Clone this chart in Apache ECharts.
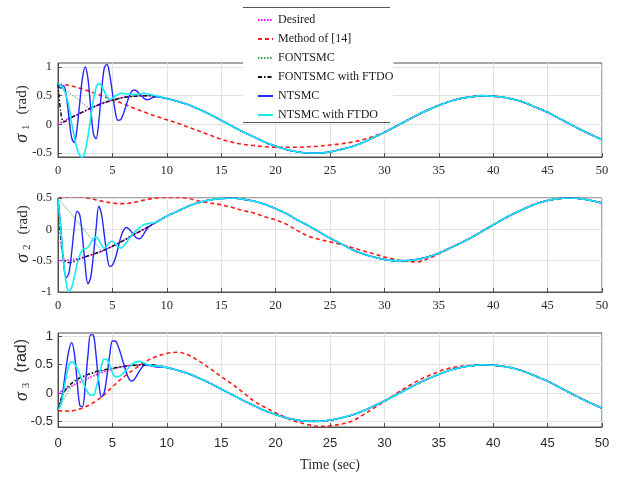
<!DOCTYPE html>
<html>
<head>
<meta charset="utf-8">
<title>Attitude tracking σ1–σ3</title>
<script src="https://cdn.jsdelivr.net/npm/echarts@6/dist/echarts.min.js"></script>
<style>
  html, body { margin: 0; padding: 0; background: #fff; }
  #chart { width: 617px; height: 477px; }
</style>
</head>
<body>
<div id="chart"></div>
<script>
// ---- sample times (s) ----
const tFine = Array.from({ length: 37 }, (_, i) => i * 0.25); // 0 … 9 s, 0.25 s step

// ---- series names ----
const names = ['Desired', 'Method of [14]', 'FONTSMC', 'FONTSMC with FTDO', 'NTSMC', 'NTSMC with FTDO'];

// ---- tick values ----
const yTicks1 = [-0.5, 0, 0.5, 1];
const yTicks2 = [-1, -0.5, 0, 0.5];
const yTicks3 = [-0.5, 0, 0.5, 1];

// ---- σ1 (1 s samples, t = 0 … 50) ----
const desired1 = [0, 0.10, 0.19, 0.28, 0.36, 0.42, 0.47, 0.49, 0.50, 0.49, 0.45, 0.40, 0.34, 0.26, 0.17, 0.07,
  -0.03, -0.13, -0.22, -0.31, -0.38, -0.44, -0.48, -0.50, -0.50, -0.48, -0.44, -0.39, -0.32, -0.23, -0.14,
  -0.04, 0.06, 0.16, 0.25, 0.33, 0.40, 0.45, 0.48, 0.50, 0.49, 0.47, 0.43, 0.37, 0.29, 0.21, 0.11, 0.01,
  -0.09, -0.18, -0.27];
const method1 = [0.70, 0.68, 0.63, 0.57, 0.50, 0.43, 0.36, 0.28, 0.21, 0.14, 0.08, 0.02, -0.05, -0.12, -0.19,
  -0.26, -0.31, -0.35, -0.37, -0.39, -0.40, -0.40, -0.40, -0.39, -0.38, -0.36, -0.34, -0.31, -0.27, -0.21];
// transients on the 0.25 s grid
const fontsmc1 = [0.70, 0.67, 0.63, 0.60, 0.56, 0.52, 0.48, 0.45, 0.41, 0.37, 0.33, 0.30, 0.28];
const fontsmcFtdo1 = [0.70, 0.22, 0.04, 0.06, 0.10];
const ntsmc1 = [0.71, 0.63, 0.68, 0.51, 0.13, -0.23, -0.32, -0.07, 0.38, 0.81, 1.00, 0.80, 0.30, -0.16, -0.25,
  0.05, 0.57, 0.98, 1.05, 0.87, 0.55, 0.24, 0.07, 0.08, 0.18, 0.32, 0.47, 0.57, 0.60, 0.58, 0.53, 0.48, 0.44,
  0.43, 0.45, 0.47, 0.48];
const ntsmcFtdo1 = [0.71, 0.68, 0.62, 0.50, 0.32, 0.03, -0.22, -0.42, -0.54, -0.58, -0.46, -0.21, 0.11, 0.42,
  0.64, 0.71, 0.67, 0.58, 0.48, 0.43, 0.45, 0.49, 0.52, 0.54, 0.54, 0.53, 0.53, 0.52, 0.52, 0.52, 0.53, 0.54,
  0.54, 0.53, 0.52, 0.51, 0.50];

// ---- σ2 ----
const desired2 = [-0.50, -0.49, -0.46, -0.41, -0.35, -0.27, -0.18, -0.08, 0.01, 0.11, 0.21, 0.29, 0.37, 0.43,
  0.47, 0.49, 0.50, 0.48, 0.45, 0.40, 0.33, 0.25, 0.15, 0.06, -0.04, -0.14, -0.23, -0.32, -0.39, -0.44, -0.48,
  -0.50, -0.50, -0.48, -0.44, -0.38, -0.30, -0.22, -0.13, -0.03, 0.07, 0.17, 0.26, 0.34, 0.41, 0.46, 0.49,
  0.50, 0.49, 0.46, 0.42];
const method2 = [0.50, 0.52, 0.52, 0.49, 0.45, 0.42, 0.41, 0.43, 0.47, 0.50, 0.51, 0.51, 0.49, 0.45, 0.42, 0.39,
  0.35, 0.30, 0.26, 0.20, 0.15, 0.08, -0.02, -0.11, -0.16, -0.20, -0.24, -0.29, -0.34, -0.39, -0.44, -0.48,
  -0.51, -0.52, -0.47, -0.39];
const fontsmc2 = [0.50, 0.45, 0.39, 0.34, 0.29, 0.24, 0.19, 0.13, 0.08, 0.03, -0.03, -0.08, -0.13, -0.18,
  -0.24, -0.29, -0.33];
const fontsmcFtdo2 = [0.50, -0.15, -0.45, -0.52, -0.53, -0.53, -0.51, -0.49, -0.47];
const ntsmc2 = [0.50, 0.05, -0.50, -0.77, -0.70, -0.38, 0.03, 0.29, 0.23, -0.12, -0.58, -0.87, -0.77, -0.42,
  0.01, 0.37, 0.24, -0.08, -0.41, -0.59, -0.57, -0.47, -0.31, -0.14, -0.02, 0.03, 0.01, -0.04, -0.10, -0.14,
  -0.15, -0.11, -0.04, 0.02, 0.06, 0.09, 0.11];
const ntsmcFtdo2 = [0.50, 0.00, -0.50, -0.85, -0.99, -0.93, -0.76, -0.56, -0.41, -0.33, -0.31, -0.29, -0.22,
  -0.15, -0.12, -0.17, -0.25, -0.30, -0.26, -0.21, -0.19, -0.23, -0.28, -0.30, -0.27, -0.22, -0.16, -0.10,
  -0.05, -0.01, 0.03, 0.06, 0.08, 0.09, 0.10, 0.10, 0.11];

// ---- σ3 ----
const desired3 = [0, 0.10, 0.19, 0.28, 0.36, 0.42, 0.47, 0.49, 0.50, 0.49, 0.45, 0.40, 0.34, 0.26, 0.17, 0.07,
  -0.03, -0.13, -0.22, -0.31, -0.38, -0.44, -0.48, -0.50, -0.50, -0.48, -0.44, -0.39, -0.32, -0.23, -0.14,
  -0.04, 0.06, 0.16, 0.25, 0.33, 0.40, 0.45, 0.48, 0.50, 0.49, 0.47, 0.43, 0.37, 0.29, 0.21, 0.11, 0.01,
  -0.09, -0.18, -0.27];
const method3 = [-0.31, -0.32, -0.28, -0.20, -0.07, 0.11, 0.28, 0.42, 0.55, 0.64, 0.70, 0.72, 0.67, 0.56, 0.43,
  0.29, 0.16, 0.01, -0.14, -0.25, -0.35, -0.44, -0.51, -0.56, -0.59, -0.58, -0.55, -0.50, -0.39, -0.27, -0.15,
  -0.02, 0.10, 0.21, 0.30, 0.38, 0.44, 0.47, 0.49, 0.50, 0.49];
const fontsmc3 = [-0.30, -0.22, -0.12, -0.03, 0.05, 0.11, 0.16, 0.20, 0.24, 0.27, 0.29, 0.31, 0.33, 0.35, 0.36,
  0.38, 0.39, 0.40, 0.41, 0.42, 0.43];
const fontsmcFtdo3 = [-0.30, -0.12, 0.00, 0.07, 0.13, 0.17, 0.21, 0.24, 0.27, 0.29, 0.31, 0.33, 0.35, 0.36,
  0.38, 0.39, 0.40, 0.41, 0.42, 0.43, 0.44];
const ntsmc3 = [-0.29, -0.18, 0.10, 0.46, 0.75, 0.89, 0.71, 0.23, -0.22, -0.24, 0.13, 0.66, 1.03, 1.02, 0.66,
  0.18, -0.07, 0.01, 0.31, 0.67, 0.92, 0.92, 0.84, 0.70, 0.54, 0.38, 0.26, 0.21, 0.24, 0.31, 0.39, 0.46, 0.49,
  0.49, 0.48, 0.47, 0.46];
const ntsmcFtdo3 = [-0.29, -0.21, 0.01, 0.28, 0.49, 0.55, 0.52, 0.44, 0.33, 0.21, 0.10, 0.01, -0.04, -0.04,
  0.09, 0.29, 0.49, 0.60, 0.59, 0.49, 0.36, 0.29, 0.29, 0.31, 0.35, 0.40, 0.45, 0.50, 0.54, 0.55, 0.56, 0.54,
  0.52, 0.50, 0.49, 0.48, 0.48];

// A transient on the 0.25 s grid, continued by the 1 s reference samples after it ends
function fineTrack(fine, ref) {
  const pts = fine.map((v, i) => [tFine[i], v]);
  const last = tFine[fine.length - 1];
  ref.forEach((v, t) => { if (t > last) pts.push([t, v]); });
  return pts;
}
// A 1 s record, continued by the reference samples after it ends
function secTrack(head, ref) {
  const pts = head.map((v, t) => [t, v]);
  ref.forEach((v, t) => { if (t >= head.length) pts.push([t, v]); });
  return pts;
}

const panels = [
  [secTrack(desired1, desired1), secTrack(method1, desired1), fineTrack(fontsmc1, desired1),
   fineTrack(fontsmcFtdo1, desired1), fineTrack(ntsmc1, desired1), fineTrack(ntsmcFtdo1, desired1)],
  [secTrack(desired2, desired2), secTrack(method2, desired2), fineTrack(fontsmc2, desired2),
   fineTrack(fontsmcFtdo2, desired2), fineTrack(ntsmc2, desired2), fineTrack(ntsmcFtdo2, desired2)],
  [secTrack(desired3, desired3), secTrack(method3, desired3), fineTrack(fontsmc3, desired3),
   fineTrack(fontsmcFtdo3, desired3), fineTrack(ntsmc3, desired3), fineTrack(ntsmcFtdo3, desired3)]
];

// ---- styling ----
const lineStyles = [
  { color: '#ff00ff', width: 1.6, type: [1.5, 1.5] },
  { color: '#ff1a1a', width: 1.6, type: [4, 3] },
  { color: '#3f9f3f', width: 1, type: [1.5, 1.5] },
  { color: '#111111', width: 1.5, type: [4, 2, 1.5, 2] },
  { color: '#2626ff', width: 1.4, type: 'solid' },
  { color: '#14ecf4', width: 1.6, type: 'solid' }
];
const serif = 'Liberation Serif, Times New Roman, serif';
const sans = 'Liberation Sans, Arial, sans-serif';
const axisColor = '#505050';
const textColor = '#2a2a2a';

const gridTops = [63, 198, 333];
const yRanges = [[-0.57, 1.07], [-1, 0.5], [-0.6, 1.06]];
const yTickSets = [yTicks1, yTicks2, yTicks3];
const tickFonts = [serif, serif, sans];

const grids = gridTops.map(top => ({
  left: 58, top: top, width: 544, height: 94,
  show: true, borderColor: axisColor, borderWidth: 1, backgroundColor: '#fff'
}));

const xAxes = [0, 1, 2].map(i => ({
  gridIndex: i, type: 'value', min: 0, max: 50, interval: 5,
  axisLine: { show: true, onZero: false, lineStyle: { color: axisColor } },
  axisTick: { show: true, inside: true, length: 4, lineStyle: { color: axisColor } },
  axisLabel: { fontFamily: tickFonts[i], fontSize: i === 2 ? 13 : 12.5, color: textColor, margin: i === 2 ? 10 : 7 },
  splitLine: { show: true, lineStyle: { color: '#e2e2e2', width: 1 } },
  name: i === 2 ? 'Time (sec)' : '',
  nameLocation: 'middle', nameGap: 31,
  nameTextStyle: { fontFamily: serif, fontSize: 14, color: textColor }
}));

const yAxes = [0, 1, 2].map(i => ({
  gridIndex: i, type: 'value', min: yRanges[i][0], max: yRanges[i][1],
  axisLine: { show: true, onZero: false, lineStyle: { color: axisColor } },
  axisTick: { show: true, inside: true, length: 4, customValues: yTickSets[i], lineStyle: { color: axisColor } },
  axisLabel: { customValues: yTickSets[i], fontFamily: tickFonts[i], fontSize: i === 2 ? 13 : 12.5,
               color: textColor, margin: i === 2 ? 5 : 6 },
  splitLine: { show: true, lineStyle: { color: '#e2e2e2', width: 1 } }
}));

const series = [];
panels.forEach((tracks, p) => {
  tracks.forEach((data, k) => {
    series.push({
      name: names[k], type: 'line', xAxisIndex: p, yAxisIndex: p,
      data: data, showSymbol: false, symbol: 'none', smooth: 0.35,
      lineStyle: lineStyles[k], itemStyle: { color: lineStyles[k].color },
      z: 2 + k, animation: false
    });
  });
});

// y-axis titles: σ with subscript, then the unit
function yTitle(idx, x, y, unitFont, unitSize) {
  return {
    type: 'text', x: x, y: y, rotation: Math.PI / 2, z: 20,
    style: {
      text: '{g|σ}{sub|' + idx + '}{t|(rad)}',
      align: 'center', verticalAlign: 'middle',
      rich: {
        g: { fontFamily: serif, fontStyle: 'italic', fontSize: 18, lineHeight: 20, fill: textColor, color: textColor },
        sub: { fontFamily: serif, fontSize: 11, lineHeight: 11, verticalAlign: 'bottom', padding: [0, 10, 0, 4],
               fill: textColor, color: textColor },
        t: { fontFamily: unitFont, fontSize: unitSize, lineHeight: 20, fill: textColor, color: textColor }
      }
    }
  };
}

const option = {
  backgroundColor: '#fff',
  animation: false,
  grid: grids,
  xAxis: xAxes,
  yAxis: yAxes,
  series: series,
  legend: {
    data: names, orient: 'vertical', left: 243, top: 7,
    padding: [7, 0, 2, 14], itemWidth: 15, itemHeight: 12, itemGap: 7,
    backgroundColor: '#fff', borderWidth: 0,
    itemStyle: { opacity: 0 },
    textStyle: { fontFamily: serif, fontSize: 12, color: '#1a1a1a' },
    z: 10
  },
  graphic: [
    { type: 'line', z: 30, shape: { x1: 243, y1: 7.5, x2: 390, y2: 7.5 }, style: { stroke: '#555', lineWidth: 1 } },
    { type: 'line', z: 30, shape: { x1: 243, y1: 122.5, x2: 390, y2: 122.5 }, style: { stroke: '#555', lineWidth: 1 } },
    yTitle(1, 22, 114, serif, 15),
    yTitle(2, 23, 234, serif, 15),
    yTitle(3, 22, 370, sans, 16)
  ]
};

const chart = echarts.init(document.getElementById('chart'), null, { renderer: 'canvas' });
chart.setOption(option);
</script>
</body>
</html>
